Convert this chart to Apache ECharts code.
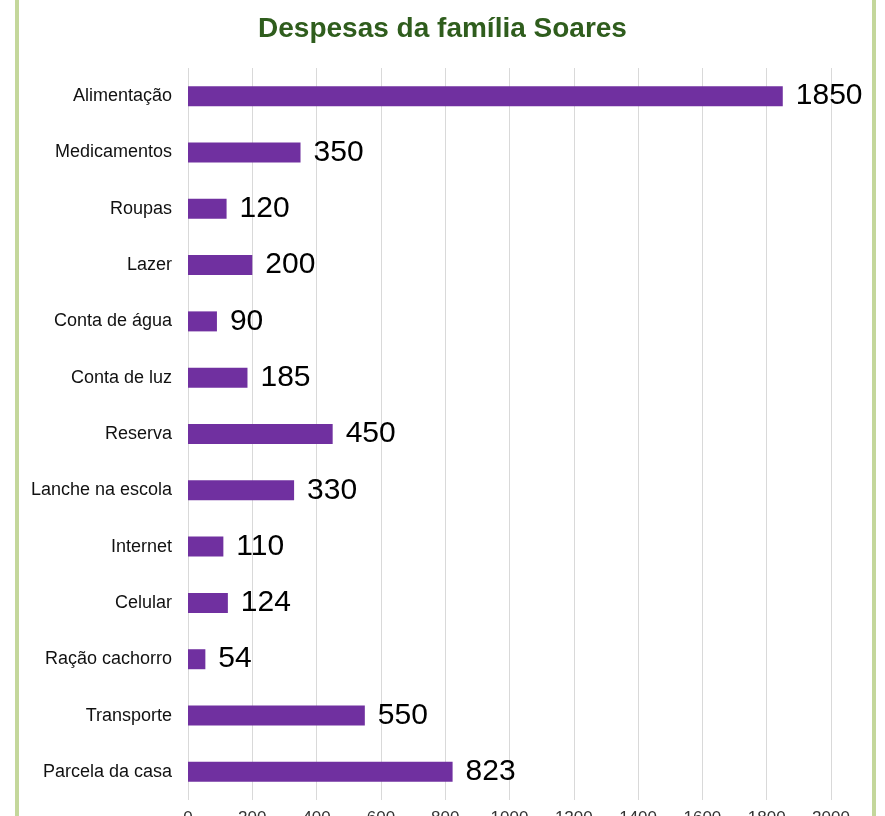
<!DOCTYPE html>
<html>
<head>
<meta charset="utf-8">
<script src="https://cdn.jsdelivr.net/npm/echarts@6/dist/echarts.min.js"></script>
<style>
  html, body { margin: 0; padding: 0; background: #fff; }
  #main { width: 885px; height: 816px; }
</style>
</head>
<body>
<div id="main"></div>
<script>
// categorias e valores (de cima para baixo)
var categorias = ['Alimentação', 'Medicamentos', 'Roupas', 'Lazer', 'Conta de água', 'Conta de luz',
  'Reserva', 'Lanche na escola', 'Internet', 'Celular', 'Ração cachorro', 'Transporte', 'Parcela da casa']
var valores = [1850, 350, 120, 200, 90, 185, 450, 330, 110, 124, 54, 550, 823]
var titulo = 'Despesas da família Soares'

var myChart = echarts.init(document.getElementById('main'))

var options = {
  backgroundColor: '#fff',
  animation: false,
  title: {
    text: titulo,
    left: 'center',
    top: 10,
    textStyle: {
      fontFamily: 'Liberation Sans, Arial',
      fontSize: 28,
      fontWeight: 'bold',
      color: '#2f5d1d'
    }
  },
  // bordas verdes laterais
  graphic: [
    { type: 'rect', shape: { x: 15, y: 0, width: 4, height: 816 }, style: { fill: '#c4d79b' } },
    { type: 'rect', shape: { x: 872, y: 0, width: 4, height: 816 }, style: { fill: '#c4d79b' } }
  ],
  grid: {
    left: 188,
    right: 54,
    top: 68,
    bottom: 16,
    outerBoundsMode: 'none',
    containLabel: false
  },
  xAxis: {
    type: 'value',
    min: 0,
    max: 2000,
    interval: 200,
    axisLine: { show: false },
    axisTick: { show: false },
    axisLabel: {
      margin: 10,
      fontSize: 17,
      color: '#333',
      fontFamily: 'Liberation Sans, Arial',
      formatter: function (v) { return String(v) }
    },
    splitLine: { lineStyle: { color: '#d9d9d9', width: 1 } }
  },
  yAxis: {
    type: 'category',
    inverse: true,
    data: categorias,
    axisLine: { show: false },
    axisTick: { show: false },
    axisLabel: {
      margin: 16,
      fontSize: 18,
      color: '#111',
      fontFamily: 'Liberation Sans, Arial'
    }
  },
  series: [
    {
      type: 'bar',
      data: valores,
      barWidth: 20,
      itemStyle: { color: '#7030a0' },
      label: {
        show: true,
        position: 'right',
        distance: 13,
        fontSize: 30,
        color: '#000',
        fontFamily: 'Liberation Sans, Arial'
      }
    }
  ]
}

myChart.setOption(options)
</script>
</body>
</html>
